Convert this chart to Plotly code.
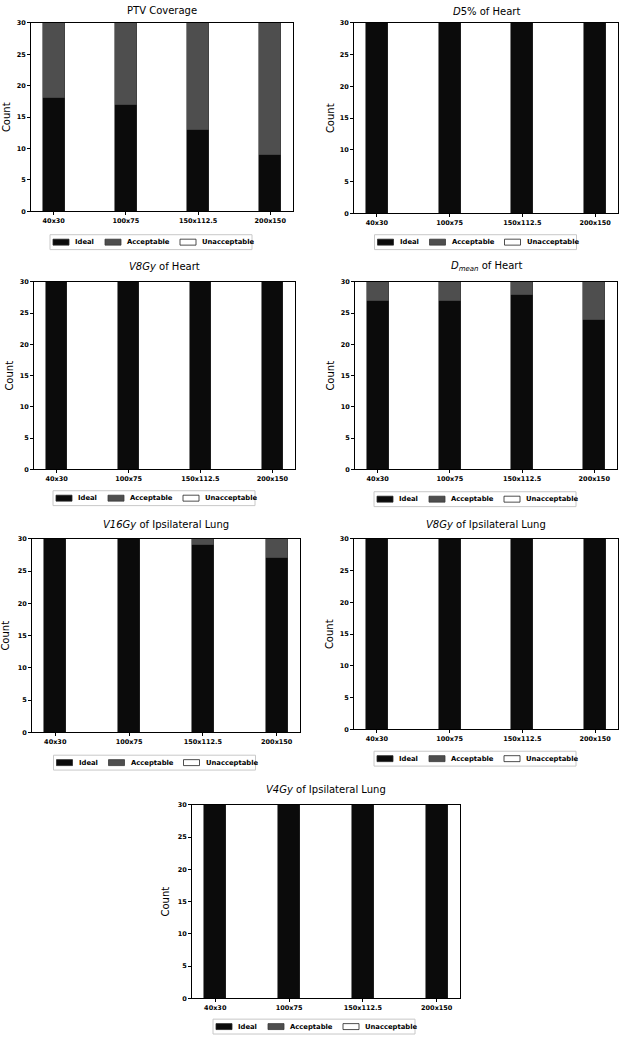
import plotly.graph_objects as go

# ---------------- data ----------------
categories = ["40x30", "100x75", "150x112.5", "200x150"]
series_names = ["Ideal", "Acceptable", "Unacceptable"]

titles = [
    "PTV Coverage",
    "<i>D</i>5% of Heart",
    "<i>V8Gy</i> of Heart",
    "<i>D<sub>mean</sub></i> of Heart",
    "<i>V16Gy</i> of Ipsilateral Lung",
    "<i>V8Gy</i> of Ipsilateral Lung",
    "<i>V4Gy</i> of Ipsilateral Lung",
]

ideal_ptv = [18, 17, 13, 9]
acceptable_ptv = [12, 13, 17, 21]
unacceptable_ptv = [0, 0, 0, 0]

ideal_d5_heart = [30, 30, 30, 30]
acceptable_d5_heart = [0, 0, 0, 0]
unacceptable_d5_heart = [0, 0, 0, 0]

ideal_v8_heart = [30, 30, 30, 30]
acceptable_v8_heart = [0, 0, 0, 0]
unacceptable_v8_heart = [0, 0, 0, 0]

ideal_dmean_heart = [27, 27, 28, 24]
acceptable_dmean_heart = [3, 3, 2, 6]
unacceptable_dmean_heart = [0, 0, 0, 0]

ideal_v16_lung = [30, 30, 29, 27]
acceptable_v16_lung = [0, 0, 1, 3]
unacceptable_v16_lung = [0, 0, 0, 0]

ideal_v8_lung = [30, 30, 30, 30]
acceptable_v8_lung = [0, 0, 0, 0]
unacceptable_v8_lung = [0, 0, 0, 0]

ideal_v4_lung = [30, 30, 30, 30]
acceptable_v4_lung = [0, 0, 0, 0]
unacceptable_v4_lung = [0, 0, 0, 0]

panels_data = [
    (ideal_ptv, acceptable_ptv, unacceptable_ptv),
    (ideal_d5_heart, acceptable_d5_heart, unacceptable_d5_heart),
    (ideal_v8_heart, acceptable_v8_heart, unacceptable_v8_heart),
    (ideal_dmean_heart, acceptable_dmean_heart, unacceptable_dmean_heart),
    (ideal_v16_lung, acceptable_v16_lung, unacceptable_v16_lung),
    (ideal_v8_lung, acceptable_v8_lung, unacceptable_v8_lung),
    (ideal_v4_lung, acceptable_v4_lung, unacceptable_v4_lung),
]

y_ticks = [0, 5, 10, 15, 20, 25, 30]

# ---------------- layout geometry (pixels) ----------------
W, H = 622, 1042
# plot boxes: (x0, x1, y0_top, y1_bottom)
boxes = [
    (31, 293, 19, 209),
    (354, 618, 19, 211),
    (34, 295, 280, 469),
    (355, 617, 280, 469),
    (32, 300, 539, 734),
    (354, 618, 539, 731),
    (192, 460, 807, 1002),
]
title_y = [7, 8, 265, 265, 525, 525, 792]
count_x = [6, 330, 10, 331, 6, 329, 166]
legend_pos = [(151, 240), (475.5, 240), (154, 498), (475, 499),
              (154.5, 764.5), (475, 760.5), (314, 1030.5)]
# legend entry offsets relative to legend centre (px)
swatch_dx = [-98, -46, 29]
text_dx = [-78, -26, 49]
SW_W, SW_H = 16, 6
LEG_HALF_W, LEG_HALF_H = 101, 7.5

colors = ["#0b0b0b", "#4e4e4e", "#ffffff"]
line_colors = ["#2a2a2a", "#3a3a3a", "#222222"]

FONT = "DejaVu Sans"


def px(x):
    return x / W


def py(y):
    return 1 - y / H


fig = go.Figure()
layout = dict(
    width=W, height=H,
    margin=dict(l=0, r=0, t=0, b=0),
    paper_bgcolor="white", plot_bgcolor="white",
    barmode="stack", bargap=0, showlegend=False,
    font=dict(family=FONT, color="black"),
    annotations=[], shapes=[],
)

for i, (data, box) in enumerate(zip(panels_data, boxes)):
    n = i + 1
    xa = "x" if n == 1 else f"x{n}"
    ya = "y" if n == 1 else f"y{n}"
    for s, (vals, name) in enumerate(zip(data, series_names)):
        fig.add_trace(go.Bar(
            x=categories, y=vals, name=name, width=0.3,
            marker=dict(color=colors[s], line=dict(color=line_colors[s], width=0.6)),
            xaxis=xa, yaxis=ya, showlegend=False,
        ))
    x0, x1, y0, y1 = box
    xkey = "xaxis" if n == 1 else f"xaxis{n}"
    ykey = "yaxis" if n == 1 else f"yaxis{n}"
    layout[xkey] = dict(
        domain=[px(x0), px(x1)], anchor=ya, type="category",
        range=[-0.315, 3.315], showline=True, linecolor="black", linewidth=1,
        mirror=True, ticks="outside", ticklen=3, tickcolor="black",
        tickfont=dict(size=6.5, family=FONT, color="black", weight="bold"),
        showgrid=False, zeroline=False, fixedrange=True,
    )
    layout[ykey] = dict(
        domain=[py(y1), py(y0)], anchor=xa,
        range=[0, 30], tickvals=y_ticks, showline=True, linecolor="black",
        linewidth=1, mirror=True, ticks="outside", ticklen=3, tickcolor="black",
        tickfont=dict(size=6.5, family=FONT, color="black", weight="bold"),
        showgrid=False, zeroline=False, fixedrange=True,
    )
    # title and y label
    layout["annotations"].append(dict(
        text=titles[i], x=px((x0 + x1) / 2), y=py(title_y[i]),
        xref="paper", yref="paper", xanchor="center", yanchor="middle",
        showarrow=False, font=dict(size=10, family=FONT, color="black"),
    ))
    layout["annotations"].append(dict(
        text="Count", x=px(count_x[i]), y=py((y0 + y1) / 2),
        xref="paper", yref="paper", xanchor="center", yanchor="middle",
        textangle=-90, showarrow=False,
        font=dict(size=10, family=FONT, color="black"),
    ))
    # legend (frame, swatches, labels)
    lx, ly = legend_pos[i]
    layout["shapes"].append(dict(
        type="rect", xref="paper", yref="paper",
        x0=px(lx - LEG_HALF_W), x1=px(lx + LEG_HALF_W),
        y0=py(ly + LEG_HALF_H), y1=py(ly - LEG_HALF_H),
        line=dict(color="#c8c8c8", width=1), fillcolor="white", layer="above",
    ))
    for s, name in enumerate(series_names):
        layout["shapes"].append(dict(
            type="rect", xref="paper", yref="paper",
            x0=px(lx + swatch_dx[s]), x1=px(lx + swatch_dx[s] + SW_W),
            y0=py(ly + SW_H / 2), y1=py(ly - SW_H / 2),
            line=dict(color=line_colors[s], width=0.8), fillcolor=colors[s],
            layer="above",
        ))
        layout["annotations"].append(dict(
            text=name, x=px(lx + text_dx[s]), y=py(ly),
            xref="paper", yref="paper", xanchor="left", yanchor="middle",
            showarrow=False,
            font=dict(size=6.8, family=FONT, color="black", weight="bold"),
        ))

fig.update_layout(**layout)
fig.write_html("out.html")
